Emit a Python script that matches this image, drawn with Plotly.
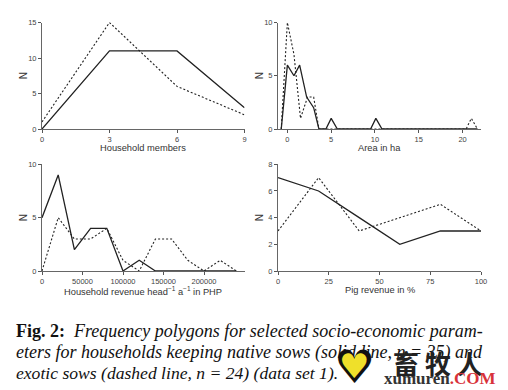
import plotly.graph_objects as go

W, H = 508, 390
# Panel 1
members_x = [0, 3, 6, 9]
members_native = [0, 11, 11, 3]
members_exotic = [1, 15, 6, 2]
# Panel 2
area_native_x = [-0.7, 0, 0.75, 1.4, 2.2, 3, 3.6, 4.4, 5, 5.7, 9.5, 10.1, 10.8, 21.7]
area_native = [0, 6, 5, 6, 3, 2, 0, 0, 1, 0, 0, 1, 0, 0]
area_exotic_x = [-0.7, 0, 0.75, 1.5, 2.3, 3, 3.6, 20.4, 21, 21.7]
area_exotic = [0, 10, 7, 1, 3, 3, 0, 0, 1, 0]
# Panel 3
revenue_native_x = [0, 20000, 40000, 60000, 80000, 100000, 120000, 140000, 240000]
revenue_native = [5, 9, 2, 4, 4, 0, 1, 0, 0]
revenue_exotic_x = [0, 20000, 40000, 60000, 80000, 100000, 120000, 140000, 160000, 180000, 200000, 220000, 240000]
revenue_exotic = [0, 5, 3, 3, 4, 1, 0, 3, 3, 1, 0, 1, 0]
# Panel 4
pig_x = [0, 20, 40, 60, 80, 100]
pig_native = [7, 6, 4, 2, 3, 3]
pig_exotic = [3, 7, 3, 4, 5, 3]

xlabels = ["Household members", "Area in ha",
           "Household revenue head<sup>−1</sup> a<sup>−1</sup> in PHP", "Pig revenue in %"]
caption = ["<b>Fig. 2:</b>  <i>Frequency polygons for selected socio-economic param-</i>",
           "<i>eters for households keeping native sows (solid line, n = 35) and</i>",
           "<i>exotic sows (dashed line, n = 24) (data set 1).</i>"]

panels = [
    dict(xn=members_x, n=members_native, xe=members_x, e=members_exotic, xr=[0, 9],
         xt=[0, 3, 6, 9], yr=[0, 15], yt=[0, 5, 10, 15], px=(42, 244.5), py=(22.5, 129)),
    dict(xn=area_native_x, n=area_native, xe=area_exotic_x, e=area_exotic, xr=[-1.07, 22.1],
         xt=[0, 5, 10, 15, 20], yr=[0, 10], yt=[0, 5, 10], px=(278, 481), py=(22.5, 129)),
    dict(xn=revenue_native_x, n=revenue_native, xe=revenue_exotic_x, e=revenue_exotic, xr=[0, 250000],
         xt=[0, 50000, 100000, 150000, 200000], yr=[0, 10], yt=[0, 5, 10], px=(42, 244.5), py=(164.3, 271)),
    dict(xn=pig_x, n=pig_native, xe=pig_x, e=pig_exotic, xr=[0, 100],
         xt=[0, 25, 50, 75, 100], yr=[0, 8], yt=[0, 2, 4, 6, 8], px=(278, 481), py=(164.3, 271)),
]
FONT = "Liberation Sans"
A = dict(xref="paper", yref="paper", showarrow=False, xanchor="center", yanchor="middle")
fig = go.Figure()
ann = []
for i, p in enumerate(panels, 1):
    sfx = "" if i == 1 else str(i)
    common = dict(xaxis="x" + sfx, yaxis="y" + sfx, mode="lines", showlegend=False, hoverinfo="skip")
    fig.add_trace(go.Scatter(x=p["xe"], y=p["e"], line=dict(color="#222", width=1.1, dash="2px 2px"), **common))
    fig.add_trace(go.Scatter(x=p["xn"], y=p["n"], line=dict(color="#222", width=1.3), **common))
    ax = dict(showgrid=False, zeroline=False, showline=True, linecolor="#666", linewidth=1,
              ticks="outside", ticklen=3, tickcolor="#555", tickwidth=1, automargin=False,
              tickfont=dict(family=FONT, size=7.5, color="#444"))
    fig.layout["xaxis" + sfx] = dict(ax, domain=[p["px"][0] / W, p["px"][1] / W], range=p["xr"],
                                     tickvals=p["xt"], ticktext=[str(v) for v in p["xt"]],
                                     anchor="y" + sfx)
    fig.layout["yaxis" + sfx] = dict(ax, domain=[1 - p["py"][1] / H, 1 - p["py"][0] / H], range=p["yr"],
                                     tickvals=p["yt"], anchor="x" + sfx)
    ann.append(dict(A, text=xlabels[i - 1],
                    x=(p["px"][0] + 0.5 * (p["px"][1] - p["px"][0])) / W,
                    y=1 - (p["py"][1] + (20 if i == 3 else 19)) / H,
                    font=dict(family=FONT, size=9.3, color="#333")))
    ann.append(dict(A, text="N", textangle=-90,
                    x=(p["px"][0] - 18.5) / W, y=1 - (p["py"][0] + p["py"][1]) / 2 / H,
                    font=dict(family=FONT, size=10, color="#333")))

for line, yc, fs in zip(caption, [331, 352, 373], [18, 18, 17.6]):
    ann.append(dict(A, text=line, xanchor="left",
                    x=13.5 / W, y=1 - yc / H, font=dict(family="Liberation Serif", size=fs, color="#111")))

# watermark
ann += [
    dict(A, text="♥", x=354 / W, y=1 - 367 / H, font=dict(family="DejaVu Sans", size=46, color="#111")),
    dict(A, text="♥", x=354 / W, y=1 - 366 / H, font=dict(family="DejaVu Sans", size=34, color="#efe02a")),
    dict(A, text="<b>畜 牧 人</b>", x=438 / W, y=1 - 362 / H,
         font=dict(family="Noto Sans CJK SC", size=26, color="#222")),
    dict(A, text="<b>xumuren<span style='color:#d8323a'>.COM</span></b>", x=440 / W, y=1 - 378 / H,
         font=dict(family="Liberation Serif", size=17, color="#333")),
]
fig.update_layout(width=W, height=H, autosize=False, margin=dict(l=0, r=0, t=0, b=0),
                  plot_bgcolor="white", paper_bgcolor="white", annotations=ann)
fig.write_html("out.html", config=dict(displayModeBar=False),
               post_script="document.body.style.margin='0';document.documentElement.style.overflow='hidden';")
